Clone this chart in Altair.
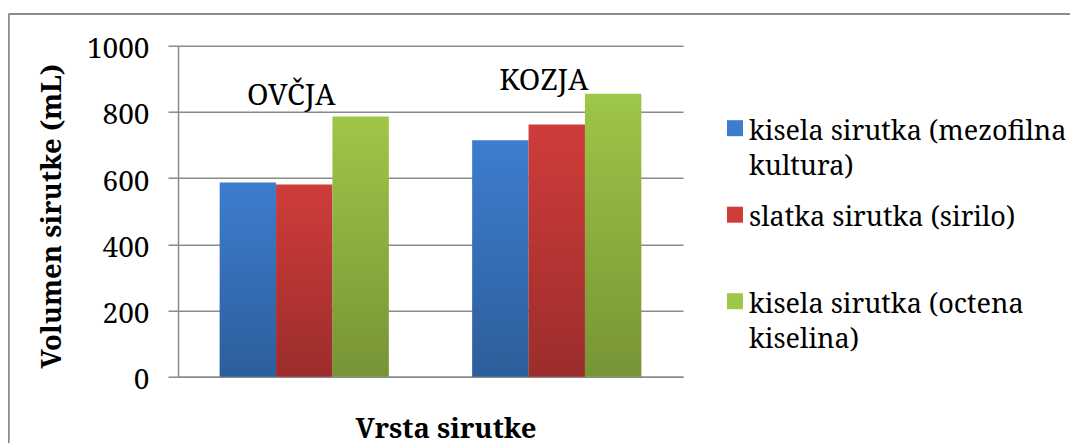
import altair as alt
import pandas as pd

categories = ["OVČJA", "KOZJA"]
series = [
    "kisela sirutka (mezofilna kultura)",
    "slatka sirutka (sirilo)",
    "kisela sirutka (octena kiselina)",
]
legend_text = [
    "kisela sirutka (mezofilna\nkultura)",
    "slatka sirutka (sirilo)",
    "kisela sirutka (octena\nkiselina)",
]
ovcja_values = [587, 581, 786]
kozja_values = [714, 762, 855]
annotation_y = [820, 866]
y_ticks = [0, 200, 400, 600, 800, 1000]
colors = ["#3C7DCE", "#CF3C3A", "#9EC647"]

FONT = "Noto Serif"
GRAY = "#8A8A8A"

rows = []
for cat, vals in zip(categories, [ovcja_values, kozja_values]):
    for s, v in zip(series, vals):
        rows.append({"vrsta": cat, "serija": s, "vrijednost": v})
df = pd.DataFrame(rows)
ann_df = pd.DataFrame({"vrsta": categories, "vrijednost": annotation_y})
leg_df = pd.DataFrame({"serija": series, "linija": legend_text})
one = pd.DataFrame({"k": [0]})

x_scale = alt.Scale(domain=categories, paddingInner=0.33, paddingOuter=0.165)
y_scale = alt.Scale(domain=[0, 1000], nice=False)
color_scale = alt.Scale(domain=series, range=colors)
leg_y_scale = alt.Scale(type="point", domain=series, range=[82.5, 255.5], padding=0)

x_enc = alt.X(
    "vrsta:N", sort=categories, scale=x_scale,
    axis=alt.Axis(
        title="Vrsta sirutke", labels=False, ticks=False, grid=False,
        domainColor=GRAY, domainWidth=1.5,
        titleFont=FONT, titleFontSize=27.5, titleFontWeight="bold", titleColor="black",
        titleX=267.5, titleY=61, titleBaseline="alphabetic", titleAlign="center",
    ),
)
xoff = alt.XOffset("serija:N", sort=series,
                   scale=alt.Scale(domain=series, paddingInner=0, paddingOuter=0))
y_enc = alt.Y(
    "vrijednost:Q", scale=y_scale,
    axis=alt.Axis(
        values=y_ticks, format="d", title="Volumen sirutke (mL)",
        tickSize=10, tickColor=GRAY, tickWidth=1.5,
        domainColor=GRAY, domainWidth=1.5,
        grid=True, gridColor=GRAY, gridWidth=1.5,
        labelFont=FONT, labelFontSize=28, labelColor="black", labelPadding=19,
        labelBaseline="middle", labelOffset=4,
        titleFont=FONT, titleFontSize=27.5, titleFontWeight="bold", titleColor="black",
        titleX=-118, titleY=170, titleBaseline="alphabetic", titleAlign="center", titleAngle=270,
    ),
)

bars = alt.Chart(df).mark_bar().encode(
    x=x_enc, xOffset=xoff, y=y_enc,
    color=alt.Color("serija:N", scale=color_scale, legend=None),
)

shade = alt.Gradient(
    gradient="linear",
    stops=[alt.GradientStop(color="rgba(0,0,0,0)", offset=0),
           alt.GradientStop(color="rgba(0,0,0,0.25)", offset=1)],
    x1=0, x2=0, y1=0, y2=1,
)
bars_shade = alt.Chart(df).mark_bar(color=shade).encode(
    x=alt.X("vrsta:N", sort=categories, scale=x_scale),
    xOffset=xoff,
    y=alt.Y("vrijednost:Q", scale=y_scale, axis=None),
)

annot = alt.Chart(ann_df).mark_text(
    font=FONT, fontSize=29, color="black", align="center", baseline="alphabetic", dx=-13
).encode(
    x=alt.X("vrsta:N", sort=categories, scale=x_scale),
    y=alt.Y("vrijednost:Q", scale=y_scale, axis=None),
    text="vrsta:N",
)

leg_sq = alt.Chart(leg_df).mark_point(shape="square", filled=True, size=256, opacity=1).encode(
    x=alt.value(557),
    y=alt.Y("serija:N", sort=series, scale=leg_y_scale, axis=None),
    color=alt.Color("serija:N", scale=color_scale, legend=None),
)
leg_tx = alt.Chart(leg_df).mark_text(
    font=FONT, fontSize=27, color="black", align="left", baseline="top",
    dy=-9.5, lineBreak="\n", lineHeight=35,
).encode(
    x=alt.value(571),
    y=alt.Y("serija:N", sort=series, scale=leg_y_scale, axis=None),
    text="linija:N",
)

border_top = alt.Chart(one).mark_rule(color=GRAY, strokeWidth=2).encode(
    x=alt.value(-169.3), x2=alt.value(900), y=alt.value(-31.7)
)
border_left = alt.Chart(one).mark_rule(color=GRAY, strokeWidth=2).encode(
    x=alt.value(-169.3), y=alt.value(-31.7), y2=alt.value(600)
)

chart = alt.layer(
    bars, bars_shade, annot, leg_sq, leg_tx, border_top, border_left
).resolve_scale(y="independent").properties(
    width=505, height=331,
    autosize=alt.AutoSizeParams(type="none"),
    padding={"left": 170, "top": 37.7, "right": 387, "bottom": 66.3},
).configure_view(strokeWidth=0)

chart.save("out.html", embed_options={"renderer": "svg", "actions": False})
